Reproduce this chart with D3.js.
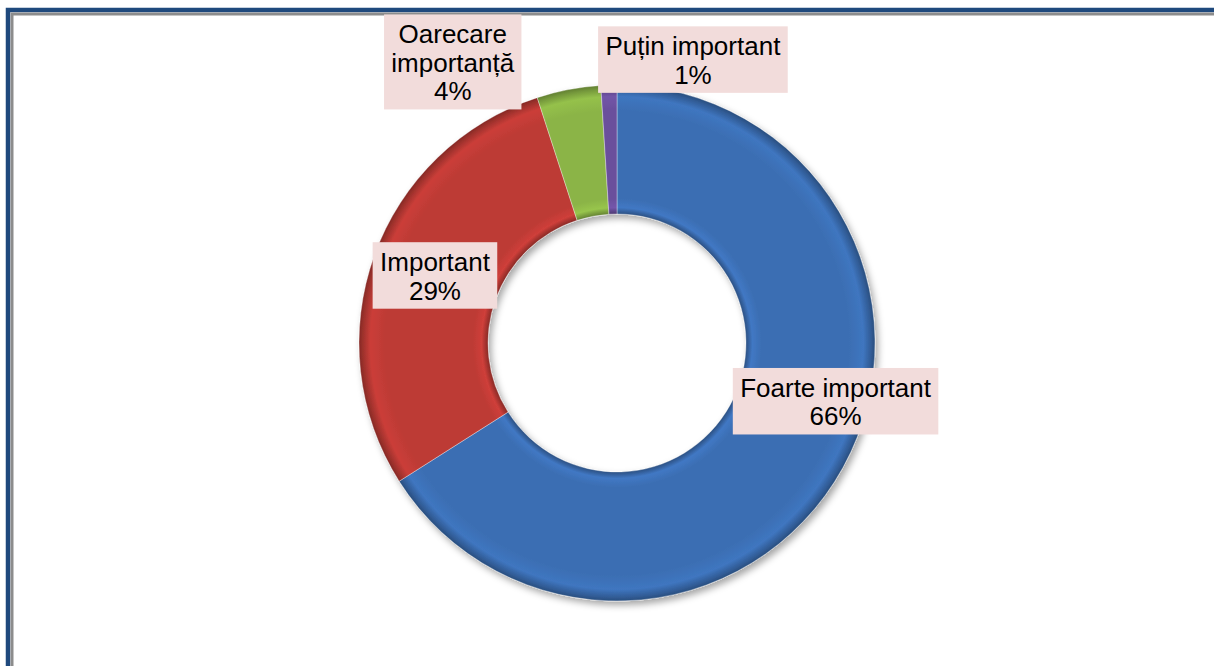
<!DOCTYPE html>
<html>
<head>
<meta charset="utf-8">
<script src="https://cdn.jsdelivr.net/npm/d3@7"></script>
<style>
  html, body { margin: 0; padding: 0; background: #ffffff; }
  svg { display: block; }
  text { font-family: "Liberation Sans", Arial, sans-serif; }
</style>
</head>
<body>
<svg id="chart" width="1214" height="666"></svg>
<script>
// ---- data ----
const categories = ["Foarte important", "Important", "Oarecare importanță", "Puțin important"];
const values = [66, 29, 4, 1];
const labelLines = [["Foarte important"], ["Important"], ["Oarecare", "importanță"], ["Puțin important"]];

// ---- style / layout ----
const baseColors = ["#3b6eb3", "#bd3a35", "#8bb446", "#6a4f9c"];
const W = 1214, H = 666;
const cx = 617, cy = 343, rOuter = 258, rInner = 129;
// manual label offsets from slice centroid (as placed in the original)
const labelOffsets = [[49, -35], [0, -2], [-128, -91], [82, -90]];
const fontSize = 26, lineH = 28.5, padX = 7, padTop = 29, padBottom = 9;

const svg = d3.select("#chart");
const defs = svg.append("defs");

// drop shadow
const f = defs.append("filter").attr("id", "shadow")
  .attr("x", "-20%").attr("y", "-20%").attr("width", "140%").attr("height", "140%");
f.append("feDropShadow").attr("dx", 3).attr("dy", 4).attr("stdDeviation", 3.5)
  .attr("flood-color", "#000").attr("flood-opacity", 0.35);

// radial bevel gradients per slice (centred on the donut centre)
const innerFrac = rInner / rOuter;
baseColors.forEach((c, i) => {
  const base = d3.color(c);
  const g = defs.append("radialGradient").attr("id", "grad" + i)
    .attr("gradientUnits", "userSpaceOnUse").attr("cx", 0).attr("cy", 0).attr("r", rOuter);
  const stops = [
    [innerFrac, base.darker(0.9)],
    [innerFrac + 0.025, base.brighter(0.25)],
    [innerFrac + 0.06, base],
    [0.9, base],
    [0.955, base.brighter(0.2)],
    [0.985, base.darker(0.5)],
    [1.0, base.darker(1.0)]
  ];
  stops.forEach(([o, col]) => g.append("stop").attr("offset", o).attr("stop-color", col.formatHex()));
});

// background and frame
svg.append("rect").attr("x", 0).attr("y", 0).attr("width", W).attr("height", H).attr("fill", "#ffffff");
svg.append("path").attr("d", `M8,${H} V10 H${W}`).attr("fill", "none").attr("stroke", "#1f497d").attr("stroke-width", 4.5);
svg.append("path").attr("d", `M12,${H} V14 H${W}`).attr("fill", "none").attr("stroke", "#8c8c8c").attr("stroke-width", 3);

const data = categories.map((c, i) => ({ category: c, value: values[i], lines: labelLines[i], i }));

const pie = d3.pie().value(d => d.value).sort(null).startAngle(0).endAngle(2 * Math.PI);
const arc = d3.arc().innerRadius(rInner).outerRadius(rOuter);
const arcs = pie(data);

const g = svg.append("g").attr("transform", `translate(${cx},${cy})`);
g.append("g").attr("filter", "url(#shadow)")
  .selectAll("path").data(arcs).join("path")
  .attr("d", arc)
  .attr("fill", d => `url(#grad${d.data.i})`)
  .attr("stroke", "rgba(255,255,255,0.35)").attr("stroke-width", 1);

// labels
const labels = svg.append("g");
arcs.forEach((d, k) => {
  const [mx, my] = arc.centroid(d);
  const [ox, oy] = labelOffsets[k];
  const lines = d.data.lines.concat([d.data.value + "%"]);
  const lg = labels.append("g");
  const rect = lg.append("rect").attr("fill", "#f2dcdb");
  const t = lg.append("text").attr("text-anchor", "middle").attr("font-size", fontSize).attr("fill", "#000");
  lines.forEach((ln, j) => t.append("tspan").attr("x", 0).attr("y", padTop + j * lineH).text(ln));
  const bb = t.node().getBBox();
  const bw = bb.width + 2 * padX;
  const bh = padTop + (lines.length - 1) * lineH + padBottom;
  rect.attr("x", -bw / 2).attr("y", 0).attr("width", bw).attr("height", bh);
  lg.attr("transform", `translate(${cx + mx + ox},${cy + my + oy - bh / 2})`);
});
</script>
</body>
</html>
